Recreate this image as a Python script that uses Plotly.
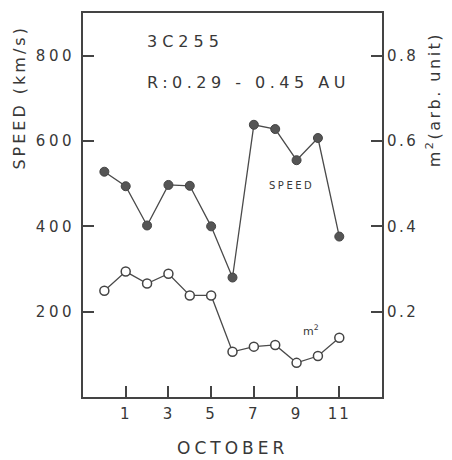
import plotly.graph_objects as go

days = [0, 1, 2, 3, 4, 5, 6, 7, 8, 9, 10, 11]
speed = [528, 494, 402, 497, 495, 400, 280, 638, 628, 555, 607, 376]
m2 = [0.249, 0.294, 0.266, 0.289, 0.238, 0.238, 0.106, 0.118, 0.122, 0.080, 0.096, 0.139]

x_ticks = [1, 3, 5, 7, 9, 11]
y_ticks = [200, 400, 600, 800]
y2_ticks = [0.2, 0.4, 0.6, 0.8]
y2_labels = ["0.2", "0.4", "0.6", "0.8"]

INK = "#383838"
FONT = "DejaVu Sans"

def sp(t, ls=1.5):
    return f'<span style="letter-spacing:{ls}px">{t}</span>'

fig = go.Figure()
fig.add_trace(go.Scatter(
    x=days, y=speed, mode="lines+markers",
    line=dict(color="#4a4a4a", width=1.3),
    marker=dict(symbol="circle", size=9, color="#555555",
                line=dict(color="#444444", width=1)),
    showlegend=False))
fig.add_trace(go.Scatter(
    x=days, y=m2, mode="lines+markers", yaxis="y2",
    line=dict(color="#4a4a4a", width=1.3),
    marker=dict(symbol="circle", size=9, color="white",
                line=dict(color="#444444", width=1.5)),
    showlegend=False))

axis_common = dict(showgrid=False, zeroline=False, showline=True,
                   linecolor="#444444", linewidth=2, ticks="inside",
                   ticklen=11, tickwidth=1.5, tickcolor="#444444",
                   tickfont=dict(family=FONT, size=15, color=INK))

fig.update_layout(
    width=452, height=460,
    margin=dict(l=83, r=70, t=13, b=63),
    paper_bgcolor="white", plot_bgcolor="white",
    xaxis=dict(range=[-1, 13], tickvals=x_ticks,
               ticktext=[sp(str(v), 2) for v in x_ticks], mirror=True,
               ticklabelstandoff=2,
               **axis_common),
    yaxis=dict(range=[0, 900], tickvals=y_ticks,
               ticktext=[sp(str(v), 3.5) for v in y_ticks], mirror=True,
               ticklabelstandoff=3,
               **axis_common),
    yaxis2=dict(range=[0, 0.9], tickvals=y2_ticks,
                ticktext=[sp(t, 2.5) for t in y2_labels], overlaying="y", side="right",
                **axis_common),
)

ann_font = dict(family=FONT, color=INK)

def ann(x, y, text, size, angle=0, xa="center"):
    fig.add_annotation(xref="paper", yref="paper", x=x, y=y, text=text,
                       textangle=angle, showarrow=False, xanchor=xa,
                       yanchor="middle", font=dict(size=size, **ann_font))

ann(-0.211, 0.782, sp("SPEED (km/s)", 3), 16, -90)
ann(1.171, 0.773, sp("m<sup>2</sup>(arb. unit)", 2.5), 16, -90)
ann(0.5, -0.133, sp("OCTOBER", 4), 17)
ann(0.207, 0.927, sp("3C255", 5), 16, xa="left")
ann(0.207, 0.820, sp("R:0.29 - 0.45 AU", 4.5), 16, xa="left")
ann(0.696, 0.552, sp("SPEED", 2.5), 10)
ann(0.763, 0.174, "m<sup>2</sup>", 11)

fig.write_html("out.html")
